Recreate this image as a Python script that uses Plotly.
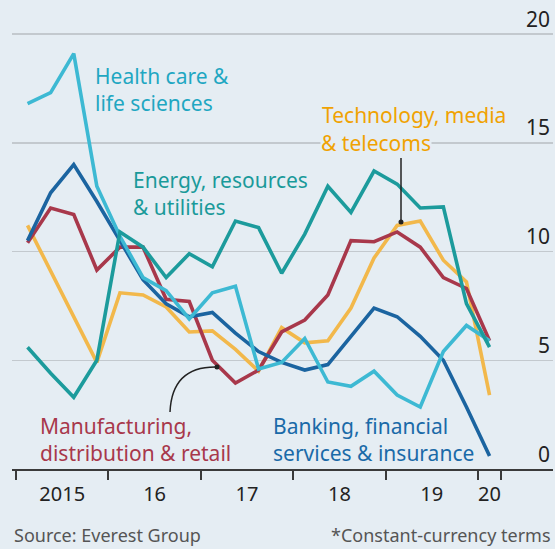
import plotly.graph_objects as go

# ---- data (quarterly, Q1 2015 .. Q1 2020), % growth ----
quarters = [2015.125 + 0.25 * i for i in range(21)]
health = [16.8, 17.3, 19.1, 13.0, 10.7, 8.8, 8.2, 6.9, 8.1, 8.4, 4.6, 4.9, 6.0, 4.0, 3.8, 4.5, 3.4, 2.85, 5.4, 6.6, 5.9]
energy = [5.6, 4.4, 3.3, 5.0, 10.9, 10.2, 8.8, 9.9, 9.3, 11.4, 11.1, 9.0, 10.8, 13.0, 11.8, 13.7, 13.1, 12.0, 12.05, 7.6, 5.6]
tech = [11.2, 9.1, 7.0, 4.9, 8.1, 8.0, 7.45, 6.3, 6.35, 5.5, 4.5, 6.5, 5.8, 5.9, 7.4, 9.7, 11.2, 11.4, 9.6, 8.6, 3.4]
manu = [10.4, 12.0, 11.7, 9.15, 10.2, 10.2, 7.8, 7.7, 5.0, 3.95, 4.55, 6.3, 6.85, 8.0, 10.5, 10.45, 10.9, 10.2, 8.8, 8.3, 5.9]
bank = [10.5, 12.7, 14.0, 12.3, 10.5, 8.7, 7.6, 7.0, 7.2, 6.25, 5.4, 4.9, 4.55, 4.8, 6.1, 7.4, 7.0, 6.1, 5.0, 2.85, 0.6]

year_bounds = [2015, 2016, 2017, 2018, 2019, 2020, 2020.25]
label_pos = [2015.5, 2016.5, 2017.5, 2018.5, 2019.5, 2020.125]
label_text = ["2015", "16", "17", "18", "19", "20"]
y_ticks = [0, 5, 10, 15, 20]

BG = "#e5edf3"
FONT = "Noto Sans"

# pixel helpers for annotation placement
def px2x(px):
    return 2015 + (px - 16) / 92.4

def py2y(py):
    return (469 - py) / 21.75

fig = go.Figure()
series = [
    (tech, "#f2b84b"),
    (manu, "#a8384b"),
    (bank, "#1b64a0"),
    (health, "#3db9d3"),
    (energy, "#1c9b9c"),
]
for vals, col in series:
    fig.add_trace(go.Scatter(x=quarters, y=vals, mode="lines",
                             line=dict(color=col, width=3.6), hoverinfo="skip"))

ann = []
def label(text, px, py, color, size=21, bg=None, xanchor="left"):
    d = dict(x=px2x(px), y=py2y(py), xref="x", yref="y", text=text, showarrow=False,
             xanchor=xanchor, yanchor="middle", align="left",
             font=dict(family=FONT, size=size, color=color))
    if bg:
        d["bgcolor"] = bg
        d["borderpad"] = 0
    ann.append(d)

label("Health care &<br>life sciences", 93, 89, "#1fa7c2")
label("Energy, resources<br>& utilities", 131, 193, "#1a9a9a")
label("Technology, media", 320, 115, "#f0a202")
label("& telecoms", 320, 143, "#f0a202", bg=BG)
label("Manufacturing,<br>distribution & retail", 38, 439, "#a8384b")
label("Banking, financial<br>services & insurance", 271, 439, "#1a6aa8")

src_y = (469 - 535) / 469
ann.append(dict(x=0.0, y=src_y, xref="paper", yref="paper", yanchor="middle",
                xanchor="left", text="Source: Everest Group", showarrow=False,
                font=dict(family=FONT, size=18, color="#555555")))
ann.append(dict(x=1.0, y=src_y, xref="paper", yref="paper", yanchor="middle",
                xanchor="right", text="*Constant-currency terms", showarrow=False,
                font=dict(family=FONT, size=18, color="#555555")))

shapes = [
    dict(type="line", xref="x", yref="y", x0=px2x(401), x1=px2x(401),
         y0=py2y(158), y1=py2y(222), line=dict(color="#222222", width=1.5)),
    dict(type="circle", xref="x", yref="y", x0=px2x(398.5), x1=px2x(403.5),
         y0=py2y(219.5), y1=py2y(224.5), fillcolor="#222222", line=dict(width=0)),
    dict(type="path", xref="x", yref="y",
         path="M %f,%f Q %f,%f %f,%f" % (px2x(170), py2y(412), px2x(172), py2y(366),
                                        px2x(217), py2y(367)),
         line=dict(color="#222222", width=1.5)),
    dict(type="circle", xref="x", yref="y", x0=px2x(214.5), x1=px2x(219.5),
         y0=py2y(364.5), y1=py2y(369.5), fillcolor="#222222", line=dict(width=0)),
]

fig.update_layout(
    width=555, height=549,
    margin=dict(l=12, r=2, t=0, b=80),
    paper_bgcolor=BG, plot_bgcolor=BG,
    showlegend=False,
    annotations=ann, shapes=shapes,
    font=dict(family=FONT),
)
fig.update_xaxes(
    range=[px2x(12), px2x(553)],
    tickmode="array", tickvals=label_pos, ticktext=label_text,
    ticks="", showgrid=False, zeroline=False,
    showline=True, linecolor="#3a3a3a", linewidth=2,
    tickfont=dict(family=FONT, size=20, color="#222222"),
    ticklabelstandoff=6,
    minor=dict(tickmode="array", tickvals=year_bounds, ticks="outside",
               ticklen=9, tickwidth=2, tickcolor="#3a3a3a", showgrid=False),
)
fig.update_yaxes(
    range=[0, py2y(0)], side="right",
    tickmode="array", tickvals=y_ticks, ticktext=[str(v) for v in y_ticks],
    ticklabelposition="inside top",
    showgrid=True, gridcolor="#c3c9ce", gridwidth=1.5,
    zeroline=False, ticks="",
    tickfont=dict(family=FONT, size=21, color="#222222"),
)

fig.write_html("out.html",
               config={"displayModeBar": False, "staticPlot": True},
               post_script="document.body.style.margin='0';document.body.style.background='%s';" % BG)
